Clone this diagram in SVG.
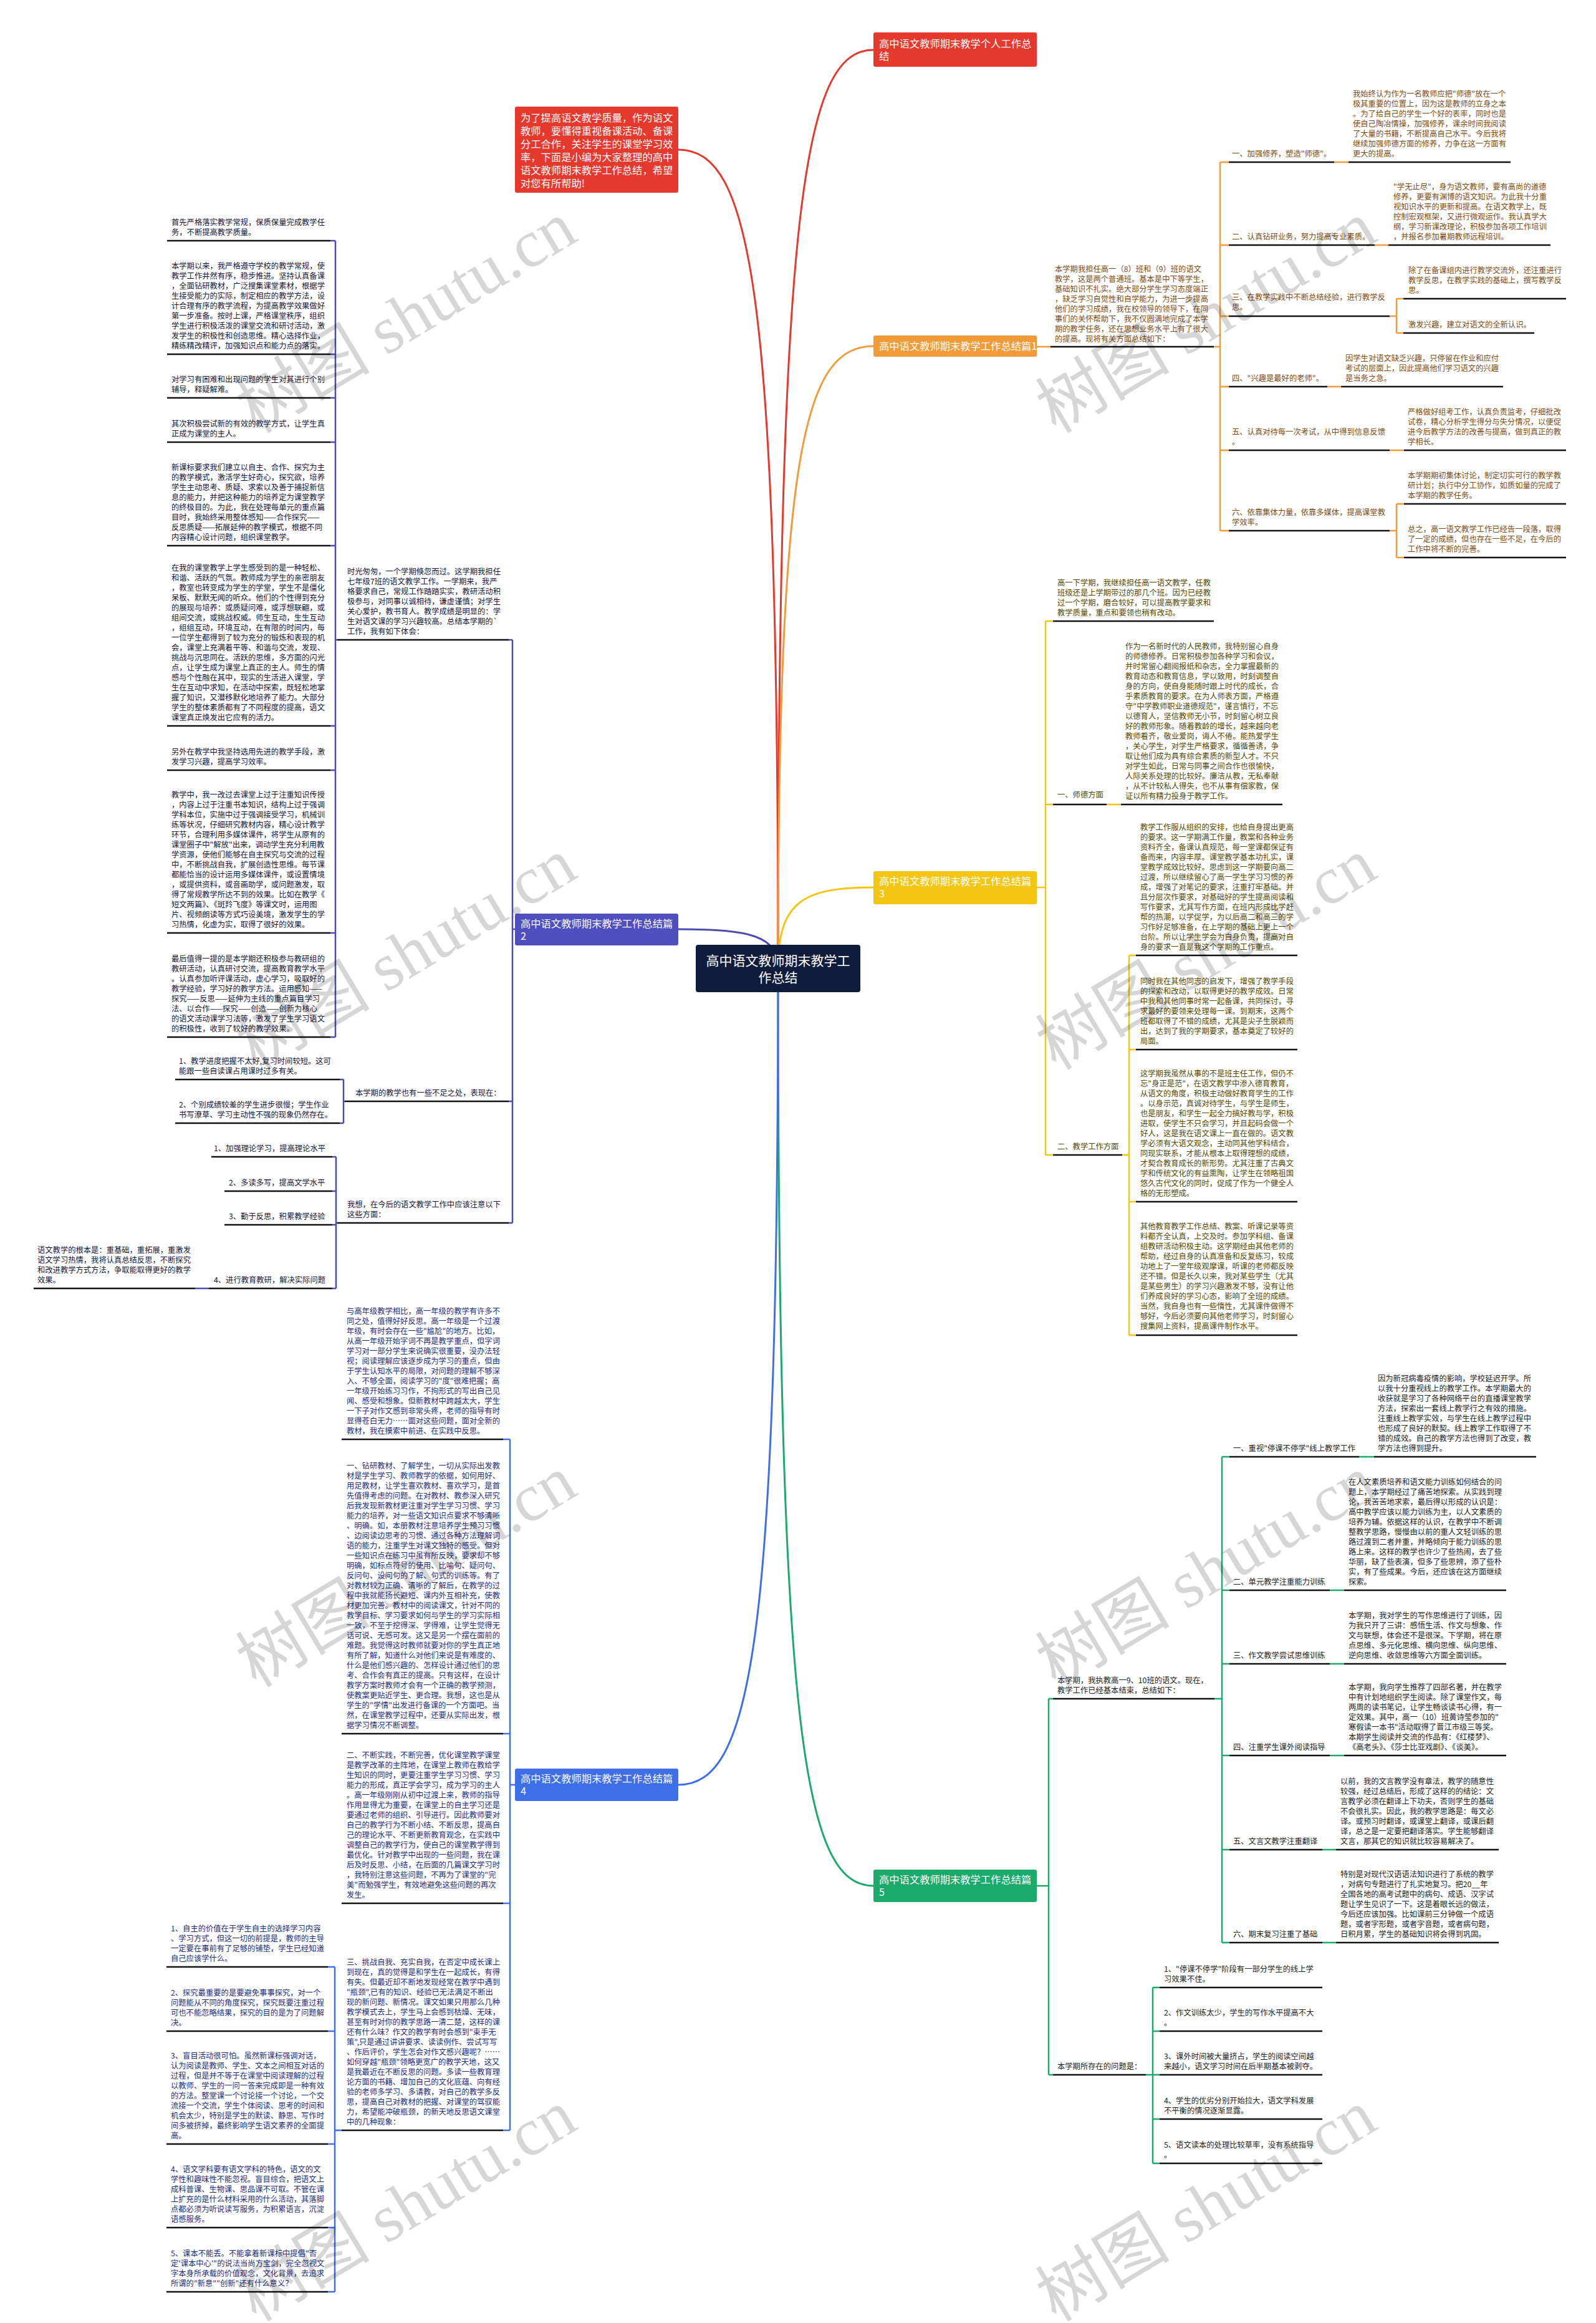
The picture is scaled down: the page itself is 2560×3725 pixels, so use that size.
<svg xmlns="http://www.w3.org/2000/svg" width="2560" height="3725" viewBox="0 0 2560 3725">
<style>
text{font-family:"Noto Sans CJK SC","Noto Sans",sans-serif}
.t{font-size:12.3px}
.nt{font-size:16.3px;fill:#fff}
.c1{fill:#7f4a10}.c3{fill:#544700}.c5{fill:#222}.c2{fill:#14143a}.c4{fill:#1c2c80}
.ul{stroke:#111;stroke-width:2.5;fill:none}
.lr{stroke:#e5392e;stroke-width:3;fill:none}
.lo{stroke:#f29b38;stroke-width:2.5;fill:none}
.ly{stroke:#f3c613;stroke-width:2.5;fill:none}
.lg{stroke:#1aaa6c;stroke-width:2.5;fill:none}
.lp{stroke:#4b4bb0;stroke-width:2.5;fill:none}
.lb{stroke:#3f6fe8;stroke-width:2.5;fill:none}
.wm{font-family:"Liberation Serif","Noto Sans CJK SC",serif;font-size:108px;fill:#000;fill-opacity:0.16}
</style>
<rect width="2560" height="3725" fill="#fff"/>
<g id="connectors">
<path class="lr" d="M1248,1553 C1248,330 1289,80 1401,80"/>
<path class="lr" d="M1248,1553 C1248,463 1205,240 1088,240"/>
<path class="lo" style="stroke-width:3" d="M1248,1553 C1248,725 1289,555 1401,555"/>
<path class="ly" style="stroke-width:3" d="M1248,1553 C1248,1445 1289,1423 1401,1423"/>
<path class="lp" style="stroke-width:3" d="M1248,1553 C1248,1501 1205,1490 1088,1490"/>
<path class="lg" style="stroke-width:3" d="M1248,1553 C1248,2774 1289,3024 1401,3024"/>
<path class="lb" style="stroke-width:3" d="M1248,1553 C1248,2639 1205,2862 1088,2862"/>
<path class="lo" d="M1663,556 H1685 M1947,556 H1957 M1957,260 V851 M1957,260 H1971 M1957,393 H1971 M1957,507 H1971 M1957,620 H1971 M1957,722 H1971 M1957,851 H1971 M2140,260 H2163 M2205,393 H2227 M2229,507 H2240 M2240,479 V534 M2240,479 H2251 M2240,534 H2251 M2129,620 H2151 M2229,722 H2252 M2229,851 H2240 M2240,808 V894 M2240,808 H2252 M2240,894 H2252"/>
<path class="ly" d="M1663,1423 H1677 M1677,996 V1852 M1677,996 H1689 M1677,1290 H1689 M1677,1852 H1689 M1775,1290 H1798 M1800,1852 H1811 M1811,1532 V2141 M1811,1532 H1822 M1811,1683 H1822 M1811,1927 H1822 M1811,2141 H1822"/>
<path class="lg" d="M1663,3024 H1682 M1682,2724 V3327 M1682,2724 H1689 M1682,3327 H1689 M1948,2724 H1960 M1960,2336 V3115 M1960,2336 H1972 M1960,2550 H1972 M1960,2668 H1972 M1960,2815 H1972 M1960,2966 H1972 M1960,3115 H1972 M2180,2336 H2204 M2133,2550 H2156 M2133,2668 H2156 M2133,2815 H2156 M2121,2966 H2143 M2121,3115 H2143 M1838,3327 H1849 M1849,3187 V3469 M1849,3187 H1860 M1849,3257 H1860 M1849,3327 H1860 M1849,3398 H1860 M1849,3469 H1860"/>
<path class="lp" d="M826,1490 H822 M822,1026 V1961 M822,1026 H816 M822,1766 H816 M822,1961 H816 M541,1026 H538 M538,386 V1663 M538,386 H530 M538,568 H530 M538,638 H530 M538,709 H530 M538,875 H530 M538,1164 H530 M538,1235 H530 M538,1496 H530 M538,1663 H530 M553,1766 H551 M551,1731 V1801 M551,1731 H545 M551,1801 H545 M541,1961 H539 M539,1855 V2066 M539,1855 H533 M539,1910 H533 M539,1964 H533 M539,2066 H533 M335,2066 H313"/>
<path class="lb" d="M826,2862 H818 M818,2308 V3416 M818,2308 H807 M818,2780 H807 M818,3052 H807 M818,3416 H807 M548,3416 H537 M537,3154 V3675 M537,3154 H526 M537,3257 H526 M537,3438 H526 M537,3572 H526 M537,3675 H526"/>
</g>

<g id="center">
<rect x="1116" y="1515" width="264" height="76" rx="4" fill="#101c3c"/>
<text x="1248" y="1548" text-anchor="middle" style="font-size:21px;fill:#fff">高中语文教师期末教学工</text>
<text x="1248" y="1575" text-anchor="middle" style="font-size:21px;fill:#fff">作总结</text>
</g>

<g id="intro">
<rect x="826" y="171" width="262" height="138" rx="3" fill="#e5392e"/>
<text class="nt" x="835" y="195"><tspan x="835">为了提高语文教学质量，作为语文</tspan><tspan x="835" dy="21">教师，要懂得重视备课活动、备课</tspan><tspan x="835" dy="21">分工合作，关注学生的课堂学习效</tspan><tspan x="835" dy="21">率，下面是小编为大家整理的高中</tspan><tspan x="835" dy="21">语文教师期末教学工作总结，希望</tspan><tspan x="835" dy="21">对您有所帮助!</tspan></text>
</g>

<g id="personal">
<rect x="1401" y="52" width="262" height="55" rx="3" fill="#e5392e"/>
<text class="nt" x="1410" y="76"><tspan x="1410">高中语文教师期末教学个人工作总</tspan><tspan x="1410" dy="20">结</tspan></text>
</g>

<g id="p1">
<rect x="1401" y="538" width="262" height="34" rx="3" fill="#f29b38"/>
<text class="nt" x="1410" y="561">高中语文教师期末教学工作总结篇1</text>
</g>
<g id="p1-intro">
<text class="t c1" x="1692" y="436"><tspan x="1692">本学期我担任高一（8）班和（9）班的语文</tspan><tspan x="1692" dy="16">教学，这是两个普通班。基本是中下等学生，</tspan><tspan x="1692" dy="16">基础知识不扎实。绝大部分学生学习态度端正</tspan><tspan x="1692" dy="16">，缺乏学习自觉性和自学能力，为进一步提高</tspan><tspan x="1692" dy="16">他们的学习成绩，我在校领导的领导下，在同</tspan><tspan x="1692" dy="16">事们的关怀帮助下，我不仅圆满地完成了本学</tspan><tspan x="1692" dy="16">期的教学任务，还在思想业务水平上有了很大</tspan><tspan x="1692" dy="16">的提高。现将有关方面总结如下：</tspan></text>
<path class="ul" d="M1685,556 H1947"/>
</g>
<g id="p1-1">
<text class="t c1" x="1976" y="251">一、加强修养，塑造"师德"。</text>
<path class="ul" d="M1971,260 H2140"/>
</g>
<g id="p1-1a">
<text class="t c1" x="2170" y="155"><tspan x="2170">我始终认为作为一名教师应把"师德"放在一个</tspan><tspan x="2170" dy="16">极其重要的位置上，因为这是教师的立身之本</tspan><tspan x="2170" dy="16">。为了给自己的学生一个好的表率，同时也是</tspan><tspan x="2170" dy="16">使自己陶冶情操，加强修养，课余时间我阅读</tspan><tspan x="2170" dy="16">了大量的书籍，不断提高自己水平。今后我将</tspan><tspan x="2170" dy="16">继续加强师德方面的修养，力争在这一方面有</tspan><tspan x="2170" dy="16">更大的提高。</tspan></text>
<path class="ul" d="M2163,260 H2423"/>
</g>
<g id="p1-2">
<text class="t c1" x="1976" y="384">二、认真钻研业务，努力提高专业素质。</text>
<path class="ul" d="M1971,393 H2205"/>
</g>
<g id="p1-2a">
<text class="t c1" x="2235" y="304"><tspan x="2235">"学无止尽"，身为语文教师，要有高尚的道德</tspan><tspan x="2235" dy="16">修养，更要有渊博的语文知识。为此我十分重</tspan><tspan x="2235" dy="16">视知识水平的更新和提高。在语文教学上，既</tspan><tspan x="2235" dy="16">控制宏观框架，又进行微观运作。我认真学大</tspan><tspan x="2235" dy="16">纲，学习新课改理论，积极参加各项工作培训</tspan><tspan x="2235" dy="16">，并报名参加暑期教师远程培训。</tspan></text>
<path class="ul" d="M2227,393 H2487"/>
</g>
<g id="p1-3">
<text class="t c1" x="1976" y="481"><tspan x="1976">三、在教学实践中不断总结经验，进行教学反</tspan><tspan x="1976" dy="16">思。</tspan></text>
<path class="ul" d="M1971,507 H2229"/>
</g>
<g id="p1-3a">
<text class="t c1" x="2259" y="438"><tspan x="2259">除了在备课组内进行教学交流外，还注重进行</tspan><tspan x="2259" dy="16">教学反思，在教学实践的基础上，撰写教学反</tspan><tspan x="2259" dy="16">思。</tspan></text>
<path class="ul" d="M2251,479 H2512"/>
</g>
<g id="p1-3b">
<text class="t c1" x="2259" y="525">激发兴趣，建立对语文的全新认识。</text>
<path class="ul" d="M2251,534 H2461"/>
</g>
<g id="p1-4">
<text class="t c1" x="1976" y="611">四、"兴趣是最好的老师"。</text>
<path class="ul" d="M1971,620 H2129"/>
</g>
<g id="p1-4a">
<text class="t c1" x="2158" y="579"><tspan x="2158">因学生对语文缺乏兴趣，只停留在作业和应付</tspan><tspan x="2158" dy="16">考试的层面上，因此提高他们学习语文的兴趣</tspan><tspan x="2158" dy="16">是当务之急。</tspan></text>
<path class="ul" d="M2151,620 H2411"/>
</g>
<g id="p1-5">
<text class="t c1" x="1976" y="697"><tspan x="1976">五、认真对待每一次考试，从中得到信息反馈</tspan><tspan x="1976" dy="16">。</tspan></text>
<path class="ul" d="M1971,722 H2229"/>
</g>
<g id="p1-5a">
<text class="t c1" x="2258" y="665"><tspan x="2258">严格做好组考工作，认真负责监考，仔细批改</tspan><tspan x="2258" dy="16">试卷，精心分析学生得分与失分情况，以便促</tspan><tspan x="2258" dy="16">进今后教学方法的改善与提高，做到真正的教</tspan><tspan x="2258" dy="16">学相长。</tspan></text>
<path class="ul" d="M2252,722 H2512"/>
</g>
<g id="p1-6">
<text class="t c1" x="1976" y="826"><tspan x="1976">六、依靠集体力量，依靠多媒体，提高课堂教</tspan><tspan x="1976" dy="16">学效率。</tspan></text>
<path class="ul" d="M1971,851 H2229"/>
</g>
<g id="p1-6a">
<text class="t c1" x="2258" y="767"><tspan x="2258">本学期期初集体讨论，制定切实可行的教学教</tspan><tspan x="2258" dy="16">研计划；执行中分工协作，如质如量的完成了</tspan><tspan x="2258" dy="16">本学期的教学任务。</tspan></text>
<path class="ul" d="M2252,808 H2512"/>
</g>
<g id="p1-6b">
<text class="t c1" x="2258" y="853"><tspan x="2258">总之，高一语文教学工作已经告一段落，取得</tspan><tspan x="2258" dy="16">了一定的成绩，但也存在一些不足，在今后的</tspan><tspan x="2258" dy="16">工作中将不断的完善。</tspan></text>
<path class="ul" d="M2252,894 H2512"/>
</g>

<g id="p3">
<rect x="1401" y="1397" width="262" height="53" rx="3" fill="#f3c613"/>
<text class="nt" x="1410" y="1419"><tspan x="1410">高中语文教师期末教学工作总结篇</tspan><tspan x="1410" dy="20">3</tspan></text>
</g>
<g id="p3-intro">
<text class="t c3" x="1696" y="939"><tspan x="1696">高一下学期，我继续担任高一语文教学，任教</tspan><tspan x="1696" dy="16">班级还是上学期带过的那几个班。因为已经教</tspan><tspan x="1696" dy="16">过一个学期，磨合较好，可以提高教学要求和</tspan><tspan x="1696" dy="16">教学质量，重点和要领也稍有改动。</tspan></text>
<path class="ul" d="M1689,996 H1947"/>
</g>
<g id="p3-1">
<text class="t c3" x="1696" y="1279">一、师德方面</text>
<path class="ul" d="M1689,1290 H1775"/>
</g>
<g id="p3-1a">
<text class="t c3" x="1805" y="1041"><tspan x="1805">作为一名新时代的人民教师，我特别留心自身</tspan><tspan x="1805" dy="16">的师德修养。日常积极参加各种学习和会议，</tspan><tspan x="1805" dy="16">并时常留心翻阅报纸和杂志，全力掌握最新的</tspan><tspan x="1805" dy="16">教育动态和教育信息，学以致用，时刻调整自</tspan><tspan x="1805" dy="16">身的方向，使自身能随时跟上时代的成长，合</tspan><tspan x="1805" dy="16">乎素质教育的要求。在为人师表方面，严格遵</tspan><tspan x="1805" dy="16">守"中学教师职业道德规范"，谨言慎行，不忘</tspan><tspan x="1805" dy="16">以德育人，坚信教师无小节，时刻留心树立良</tspan><tspan x="1805" dy="16">好的教师形象。随着教龄的增长，越来越向老</tspan><tspan x="1805" dy="16">教师看齐，敬业爱岗，诲人不倦。能热爱学生</tspan><tspan x="1805" dy="16">，关心学生，对学生严格要求，循循善诱，争</tspan><tspan x="1805" dy="16">取让他们成为具有综合素质的新型人才。不只</tspan><tspan x="1805" dy="16">对学生如此，日常与同事之间合作也很愉快，</tspan><tspan x="1805" dy="16">人际关系处理的比较好。廉洁从教，无私奉献</tspan><tspan x="1805" dy="16">，从不计较私人得失，也不从事有偿家教，保</tspan><tspan x="1805" dy="16">证以所有精力投身于教学工作。</tspan></text>
<path class="ul" d="M1798,1290 H2057"/>
</g>
<g id="p3-2">
<text class="t c3" x="1696" y="1843">二、教学工作方面</text>
<path class="ul" d="M1689,1852 H1800"/>
</g>
<g id="p3-2a">
<text class="t c3" x="1829" y="1331"><tspan x="1829">教学工作服从组织的安排，也给自身提出更高</tspan><tspan x="1829" dy="16">的要求。这一学期满工作量，教案和各种业务</tspan><tspan x="1829" dy="16">资料齐全，备课认真规范，每一堂课都保证有</tspan><tspan x="1829" dy="16">备而来，内容丰厚。课堂教学基本功扎实，课</tspan><tspan x="1829" dy="16">堂教学成效比较好。思虑到这一学期要向高二</tspan><tspan x="1829" dy="16">过渡，所以继续留心了高一学生学习习惯的养</tspan><tspan x="1829" dy="16">成，增强了对笔记的要求，注重打牢基础。并</tspan><tspan x="1829" dy="16">且分层次作要求，对基础好的学生提高阅读和</tspan><tspan x="1829" dy="16">写作要求，尤其写作方面，在班内形成比学赶</tspan><tspan x="1829" dy="16">帮的热潮，以学促学，为以后高二和高三的学</tspan><tspan x="1829" dy="16">习作好足够准备，在上学期的基础上更上一个</tspan><tspan x="1829" dy="16">台阶。所以让学生学会为自身负责，提高对自</tspan><tspan x="1829" dy="16">身的要求一直是我这个学期的工作重点。</tspan></text>
<path class="ul" d="M1822,1532 H2081"/>
</g>
<g id="p3-2b">
<text class="t c3" x="1829" y="1578"><tspan x="1829">同时我在其他同志的启发下，增强了教学手段</tspan><tspan x="1829" dy="16">的探索和改动，以取得更好的教学成效。日常</tspan><tspan x="1829" dy="16">中我和其他同事时常一起备课，共同探讨，寻</tspan><tspan x="1829" dy="16">求最好的要领来处理每一课。到期末，这两个</tspan><tspan x="1829" dy="16">班都取得了不错的成绩，尤其是尖子生脱颖而</tspan><tspan x="1829" dy="16">出，达到了我的学期要求，基本奠定了较好的</tspan><tspan x="1829" dy="16">局面。</tspan></text>
<path class="ul" d="M1822,1683 H2081"/>
</g>
<g id="p3-2c">
<text class="t c3" x="1829" y="1726"><tspan x="1829">这学期我虽然从事的不是班主任工作，但仍不</tspan><tspan x="1829" dy="16">忘"身正是范"，在语文教学中渗入德育教育，</tspan><tspan x="1829" dy="16">从语文的角度，积极主动做好教育学生的工作</tspan><tspan x="1829" dy="16">。以身示范，真诚对待学生，与学生是师生，</tspan><tspan x="1829" dy="16">也是朋友，和学生一起全力搞好教与学，积极</tspan><tspan x="1829" dy="16">进取，使学生不只会学习，并且起码会做一个</tspan><tspan x="1829" dy="16">好人，这是我在语文课上一直在做的。语文教</tspan><tspan x="1829" dy="16">学必须有大语文观念，主动同其他学科结合，</tspan><tspan x="1829" dy="16">同现实联系，才能从根本上取得理想的成绩，</tspan><tspan x="1829" dy="16">才契合教育成长的新形势。尤其注重了古典文</tspan><tspan x="1829" dy="16">学和传统文化的有益熏陶，让学生在领略祖国</tspan><tspan x="1829" dy="16">悠久古代文化的同时，促成了作为一个健全人</tspan><tspan x="1829" dy="16">格的无形塑成。</tspan></text>
<path class="ul" d="M1822,1927 H2081"/>
</g>
<g id="p3-2d">
<text class="t c3" x="1829" y="1971"><tspan x="1829">其他教育教学工作总结、教案、听课记录等资</tspan><tspan x="1829" dy="16">料都齐全认真，上交及时。参加学科组、备课</tspan><tspan x="1829" dy="16">组教研活动积极主动。这学期经由其他老师的</tspan><tspan x="1829" dy="16">帮助，经过自身的认真准备和反复练习，较成</tspan><tspan x="1829" dy="16">功地上了一堂年级观摩课，听课的老师都反映</tspan><tspan x="1829" dy="16">还不错。但是长久以来，我对某些学生（尤其</tspan><tspan x="1829" dy="16">是某些男生）的学习兴趣激发不够，没有让他</tspan><tspan x="1829" dy="16">们养成良好的学习心态，影响了全班的成绩。</tspan><tspan x="1829" dy="16">当然，我自身也有一些惰性，尤其课件做得不</tspan><tspan x="1829" dy="16">够好，今后必须要向其他老师学习，时刻留心</tspan><tspan x="1829" dy="16">搜集网上资料，提高课件制作水平。</tspan></text>
<path class="ul" d="M1822,2141 H2081"/>
</g>

<g id="p5">
<rect x="1401" y="2998" width="262" height="52" rx="3" fill="#1aaa6c"/>
<text class="nt" x="1410" y="3020"><tspan x="1410">高中语文教师期末教学工作总结篇</tspan><tspan x="1410" dy="20">5</tspan></text>
</g>
<g id="p5-intro">
<text class="t c5" x="1696" y="2699"><tspan x="1696">本学期，我执教高一9、10班的语文。现在，</tspan><tspan x="1696" dy="16">教学工作已经基本结束，总结如下：</tspan></text>
<path class="ul" d="M1689,2724 H1948"/>
</g>
<g id="p5-1">
<text class="t c5" x="1978" y="2327">一、重视"停课不停学"线上教学工作</text>
<path class="ul" d="M1972,2336 H2180"/>
</g>
<g id="p5-1a">
<text class="t c5" x="2210" y="2215"><tspan x="2210">因为新冠病毒疫情的影响，学校延迟开学。所</tspan><tspan x="2210" dy="16">以我十分重视线上的教学工作。本学期最大的</tspan><tspan x="2210" dy="16">收获就是学习了各种网络平台的直播课堂教学</tspan><tspan x="2210" dy="16">方法，探索出一套线上教学行之有效的措施。</tspan><tspan x="2210" dy="16">注重线上教学实效，与学生在线上教学过程中</tspan><tspan x="2210" dy="16">也形成了良好的默契。线上教学工作取得了不</tspan><tspan x="2210" dy="16">错的成效。自己的教学方法也得到了改变，教</tspan><tspan x="2210" dy="16">学方法也得到提升。</tspan></text>
<path class="ul" d="M2204,2336 H2464"/>
</g>
<g id="p5-2">
<text class="t c5" x="1978" y="2541">二、单元教学注重能力训练</text>
<path class="ul" d="M1972,2550 H2133"/>
</g>
<g id="p5-2a">
<text class="t c5" x="2163" y="2381"><tspan x="2163">在人文素质培养和语文能力训练如何结合的问</tspan><tspan x="2163" dy="16">题上，本学期经过了痛苦地探索。从实践到理</tspan><tspan x="2163" dy="16">论，我苦苦地求索，最后得以形成的认识是：</tspan><tspan x="2163" dy="16">高中教学应该以能力训练为主，以人文素质的</tspan><tspan x="2163" dy="16">培养为辅。依据这样的认识，在教学中不断调</tspan><tspan x="2163" dy="16">整教学思路，慢慢由以前的重人文轻训练的思</tspan><tspan x="2163" dy="16">路过渡到二者并重，并略倾向于能力训练的思</tspan><tspan x="2163" dy="16">路上来。这样的教学也许少了些热闹，去了些</tspan><tspan x="2163" dy="16">华丽，缺了些表演，但多了些思辨，添了些朴</tspan><tspan x="2163" dy="16">实，有了些成果。今后，还应该在这方面继续</tspan><tspan x="2163" dy="16">探索。</tspan></text>
<path class="ul" d="M2156,2550 H2416"/>
</g>
<g id="p5-3">
<text class="t c5" x="1978" y="2659">三、作文教学尝试思维训练</text>
<path class="ul" d="M1972,2668 H2133"/>
</g>
<g id="p5-3a">
<text class="t c5" x="2163" y="2595"><tspan x="2163">本学期，我对学生的写作思维进行了训练，因</tspan><tspan x="2163" dy="16">为我只开了三讲：感悟生活、作文与想象、作</tspan><tspan x="2163" dy="16">文与联想，体会还不是很深。下学期，将在原</tspan><tspan x="2163" dy="16">点思维、多元化思维、横向思维、纵向思维、</tspan><tspan x="2163" dy="16">逆向思维、收敛思维等六方面全面训练。</tspan></text>
<path class="ul" d="M2156,2668 H2416"/>
</g>
<g id="p5-4">
<text class="t c5" x="1978" y="2806">四、注重学生课外阅读指导</text>
<path class="ul" d="M1972,2815 H2133"/>
</g>
<g id="p5-4a">
<text class="t c5" x="2163" y="2710"><tspan x="2163">本学期，我向学生推荐了四部名著，并在教学</tspan><tspan x="2163" dy="16">中有计划地组织学生阅读。除了课堂作文，每</tspan><tspan x="2163" dy="16">两周的读书笔记，让学生畅谈读书心得，有一</tspan><tspan x="2163" dy="16">定效果。其中，高一（10）班黄诗莹参加的"</tspan><tspan x="2163" dy="16">寒假读一本书"活动取得了晋江市级三等奖。</tspan><tspan x="2163" dy="16">本期学生阅读并交流的作品有：《红楼梦》、</tspan><tspan x="2163" dy="16">《高老头》、《莎士比亚戏剧》、《谈美》。</tspan></text>
<path class="ul" d="M2156,2815 H2416"/>
</g>
<g id="p5-5">
<text class="t c5" x="1978" y="2957">五、文言文教学注重翻译</text>
<path class="ul" d="M1972,2966 H2121"/>
</g>
<g id="p5-5a">
<text class="t c5" x="2150" y="2861"><tspan x="2150">以前，我的文言教学没有章法，教学的随意性</tspan><tspan x="2150" dy="16">较强，经过总结后，形成了这样的的结论：文</tspan><tspan x="2150" dy="16">言教学必须在翻译上下功夫，否则学生的基础</tspan><tspan x="2150" dy="16">不会很扎实。因此，我的教学思路是：每文必</tspan><tspan x="2150" dy="16">译。或预习时翻译，或课堂上翻译，或课后翻</tspan><tspan x="2150" dy="16">译，总之是一定要把翻译落实。学生能够翻译</tspan><tspan x="2150" dy="16">文言，那其它的知识就比较容易解决了。</tspan></text>
<path class="ul" d="M2143,2966 H2404"/>
</g>
<g id="p5-6">
<text class="t c5" x="1978" y="3106">六、期末复习注重了基础</text>
<path class="ul" d="M1972,3115 H2121"/>
</g>
<g id="p5-6a">
<text class="t c5" x="2150" y="3010"><tspan x="2150">特别是对现代汉语语法知识进行了系统的教学</tspan><tspan x="2150" dy="16">，对病句专题进行了扎实地复习。把20__年</tspan><tspan x="2150" dy="16">全国各地的高考试题中的病句、成语、汉字试</tspan><tspan x="2150" dy="16">题让学生见识了一下。这是着眼长远的做法，</tspan><tspan x="2150" dy="16">今后还应该加强。比如课前三分钟做一个成语</tspan><tspan x="2150" dy="16">题，或者字形题，或者字音题，或者病句题，</tspan><tspan x="2150" dy="16">日积月累，学生的基础知识将会得到巩固。</tspan></text>
<path class="ul" d="M2143,3115 H2404"/>
</g>
<g id="p5-q">
<text class="t c5" x="1696" y="3318">本学期所存在的问题是：</text>
<path class="ul" d="M1689,3327 H1838"/>
</g>
<g id="p5-q1">
<text class="t c5" x="1867" y="3162"><tspan x="1867">1、"停课不停学"阶段有一部分学生的线上学</tspan><tspan x="1867" dy="16">习效果不佳。</tspan></text>
<path class="ul" d="M1860,3187 H2121"/>
</g>
<g id="p5-q2">
<text class="t c5" x="1867" y="3232"><tspan x="1867">2、作文训练太少，学生的写作水平提高不大</tspan><tspan x="1867" dy="16">。</tspan></text>
<path class="ul" d="M1860,3257 H2121"/>
</g>
<g id="p5-q3">
<text class="t c5" x="1867" y="3302"><tspan x="1867">3、课外时间被大量挤占，学生的阅读空间越</tspan><tspan x="1867" dy="16">来越小，语文学习时间在后半期基本被剥夺。</tspan></text>
<path class="ul" d="M1860,3327 H2121"/>
</g>
<g id="p5-q4">
<text class="t c5" x="1867" y="3373"><tspan x="1867">4、学生的优劣分别开始拉大，语文学科发展</tspan><tspan x="1867" dy="16">不平衡的情况逐渐显露。</tspan></text>
<path class="ul" d="M1860,3398 H2121"/>
</g>
<g id="p5-q5">
<text class="t c5" x="1867" y="3444"><tspan x="1867">5、语文读本的处理比较草率，没有系统指导</tspan><tspan x="1867" dy="16">。</tspan></text>
<path class="ul" d="M1860,3469 H2121"/>
</g>

<g id="p2">
<rect x="826" y="1465" width="262" height="51" rx="3" fill="#4f4fbf"/>
<text class="nt" x="835" y="1487"><tspan x="835">高中语文教师期末教学工作总结篇</tspan><tspan x="835" dy="20">2</tspan></text>
</g>
<g id="p2-a">
<text class="t c2" x="557" y="921"><tspan x="557">时光匆匆，一个学期倏忽而过。这学期我担任</tspan><tspan x="557" dy="16">七年级7班的语文教学工作。一学期来，我严</tspan><tspan x="557" dy="16">格要求自己，常规工作踏踏实实，教研活动积</tspan><tspan x="557" dy="16">极参与，对同事以诚相待，谦虚谨慎；对学生</tspan><tspan x="557" dy="16">关心爱护，教书育人。教学成绩是明显的：学</tspan><tspan x="557" dy="16">生对语文课的学习兴趣较高。总结本学期的`</tspan><tspan x="557" dy="16">工作，我有如下体会：</tspan></text>
<path class="ul" d="M541,1026 H816"/>
</g>
<g id="p2-a1">
<text class="t c2" x="275" y="361"><tspan x="275">首先严格落实教学常规，保质保量完成教学任</tspan><tspan x="275" dy="16">务，不断提高教学质量。</tspan></text>
<path class="ul" d="M268,386 H530"/>
</g>
<g id="p2-a2">
<text class="t c2" x="275" y="431"><tspan x="275">本学期以来，我严格遵守学校的教学常规，使</tspan><tspan x="275" dy="16">教学工作井然有序，稳步推进。坚持认真备课</tspan><tspan x="275" dy="16">，全面钻研教材，广泛搜集课堂素材，根据学</tspan><tspan x="275" dy="16">生接受能力的实际，制定相应的教学方法，设</tspan><tspan x="275" dy="16">计合理有序的教学流程，为提高教学效果做好</tspan><tspan x="275" dy="16">第一步准备。按时上课，严格课堂秩序，组织</tspan><tspan x="275" dy="16">学生进行积极活泼的课堂交流和研讨活动，激</tspan><tspan x="275" dy="16">发学生的积极性和创造思维。精心选择作业，</tspan><tspan x="275" dy="16">精练精改精评，加强知识点和能力点的落实。</tspan></text>
<path class="ul" d="M268,568 H530"/>
</g>
<g id="p2-a3">
<text class="t c2" x="275" y="613"><tspan x="275">对学习有困难和出现问题的学生对其进行个别</tspan><tspan x="275" dy="16">辅导，释疑解难。</tspan></text>
<path class="ul" d="M268,638 H530"/>
</g>
<g id="p2-a4">
<text class="t c2" x="275" y="684"><tspan x="275">其次积极尝试新的有效的教学方式，让学生真</tspan><tspan x="275" dy="16">正成为课堂的主人。</tspan></text>
<path class="ul" d="M268,709 H530"/>
</g>
<g id="p2-a5">
<text class="t c2" x="275" y="754"><tspan x="275">新课标要求我们建立以自主、合作、探究为主</tspan><tspan x="275" dy="16">的教学模式，激活学生好奇心，探究欲，培养</tspan><tspan x="275" dy="16">学生主动思考、质疑、求索以及善于捕捉新信</tspan><tspan x="275" dy="16">息的能力，并把这种能力的培养定为课堂教学</tspan><tspan x="275" dy="16">的终极目的。为此，我在处理每单元的重点篇</tspan><tspan x="275" dy="16">目时，我始终采用整体感知——合作探究——</tspan><tspan x="275" dy="16">反思质疑——拓展延伸的教学模式，根据不同</tspan><tspan x="275" dy="16">内容精心设计问题，组织课堂教学。</tspan></text>
<path class="ul" d="M268,875 H530"/>
</g>
<g id="p2-a6">
<text class="t c2" x="275" y="915"><tspan x="275">在我的课堂教学上学生感受到的是一种轻松、</tspan><tspan x="275" dy="16">和谐、活跃的气氛。教师成为学生的亲密朋友</tspan><tspan x="275" dy="16">，教室也转变成为学生的学堂，学生不是僵化</tspan><tspan x="275" dy="16">呆板、默默无闻的听众。他们的个性得到充分</tspan><tspan x="275" dy="16">的展现与培养：或质疑问难，或浮想联翩，或</tspan><tspan x="275" dy="16">组间交流，或挑战权威。师生互动，生生互动</tspan><tspan x="275" dy="16">，组组互动，环境互动，在有限的时间内，每</tspan><tspan x="275" dy="16">一位学生都得到了较为充分的锻炼和表现的机</tspan><tspan x="275" dy="16">会，课堂上充满着平等、和谐与交流，发现、</tspan><tspan x="275" dy="16">挑战与沉思同在。活跃的思维，多方面的闪光</tspan><tspan x="275" dy="16">点，让学生成为课堂上真正的主人。师生的情</tspan><tspan x="275" dy="16">感与个性融在其中，现实的生活进入课堂，学</tspan><tspan x="275" dy="16">生在互动中求知，在活动中探索，既轻松地掌</tspan><tspan x="275" dy="16">握了知识，又潜移默化地培养了能力。大部分</tspan><tspan x="275" dy="16">学生的整体素质都有了不同程度的提高，语文</tspan><tspan x="275" dy="16">课堂真正焕发出它应有的活力。</tspan></text>
<path class="ul" d="M268,1164 H530"/>
</g>
<g id="p2-a7">
<text class="t c2" x="275" y="1210"><tspan x="275">另外在教学中我坚持选用先进的教学手段，激</tspan><tspan x="275" dy="16">发学习兴趣，提高学习效率。</tspan></text>
<path class="ul" d="M268,1235 H530"/>
</g>
<g id="p2-a8">
<text class="t c2" x="275" y="1279"><tspan x="275">教学中，我一改过去课堂上过于注重知识传授</tspan><tspan x="275" dy="16">，内容上过于注重书本知识，结构上过于强调</tspan><tspan x="275" dy="16">学科本位，实施中过于强调接受学习，机械训</tspan><tspan x="275" dy="16">练等状况，仔细研究教材内容，精心设计教学</tspan><tspan x="275" dy="16">环节，合理利用多媒体课件，将学生从原有的</tspan><tspan x="275" dy="16">课堂圈子中"解放"出来，调动学生充分利用教</tspan><tspan x="275" dy="16">学资源，使他们能够在自主探究与交流的过程</tspan><tspan x="275" dy="16">中，不断挑战自我，扩展创造性思维。每节课</tspan><tspan x="275" dy="16">都能恰当的设计运用多媒体课件，或设置情境</tspan><tspan x="275" dy="16">，或提供资料，或音画助学，或问题激发，取</tspan><tspan x="275" dy="16">得了常规教学所达不到的效果。比如在教学《</tspan><tspan x="275" dy="16">短文两篇》、《斑羚飞度》等课文时，运用图</tspan><tspan x="275" dy="16">片、视频朗读等方式巧设美境，激发学生的学</tspan><tspan x="275" dy="16">习热情，化虚为实，取得了很好的效果。</tspan></text>
<path class="ul" d="M268,1496 H530"/>
</g>
<g id="p2-a9">
<text class="t c2" x="275" y="1542"><tspan x="275">最后值得一提的是本学期还积极参与教研组的</tspan><tspan x="275" dy="16">教研活动，认真研讨交流，提高教育教学水平</tspan><tspan x="275" dy="16">。认真参加听评课活动，虚心学习，吸取好的</tspan><tspan x="275" dy="16">教学经验，学习好的教学方法。运用感知——</tspan><tspan x="275" dy="16">探究——反思——延伸为主线的重点篇目学习</tspan><tspan x="275" dy="16">法、以合作——探究——创造——创新为核心</tspan><tspan x="275" dy="16">的语文活动课学习法等，激发了学生学习语文</tspan><tspan x="275" dy="16">的积极性，收到了较好的教学效果。</tspan></text>
<path class="ul" d="M268,1663 H530"/>
</g>
<g id="p2-b">
<text class="t c2" x="570" y="1757">本学期的教学也有一些不足之处，表现在：</text>
<path class="ul" d="M553,1766 H816"/>
</g>
<g id="p2-b1">
<text class="t c2" x="287" y="1706"><tspan x="287">1、教学进度把握不太好,复习时间较短。这可</tspan><tspan x="287" dy="16">能跟一些自读课占用课时过多有关。</tspan></text>
<path class="ul" d="M281,1731 H545"/>
</g>
<g id="p2-b2">
<text class="t c2" x="287" y="1776"><tspan x="287">2、个别成绩较差的学生进步很慢；学生作业</tspan><tspan x="287" dy="16">书写潦草、学习主动性不强的现象仍然存在。</tspan></text>
<path class="ul" d="M281,1801 H545"/>
</g>
<g id="p2-c">
<text class="t c2" x="557" y="1936"><tspan x="557">我想，在今后的语文教学工作中应该注意以下</tspan><tspan x="557" dy="16">这些方面：</tspan></text>
<path class="ul" d="M541,1961 H816"/>
</g>
<g id="p2-c1">
<text class="t c2" x="343" y="1846">1、加强理论学习，提高理论水平</text>
<path class="ul" d="M339,1855 H533"/>
</g>
<g id="p2-c2">
<text class="t c2" x="367" y="1901">2、多读多写，提高文学水平</text>
<path class="ul" d="M360,1910 H533"/>
</g>
<g id="p2-c3">
<text class="t c2" x="367" y="1955">3、勤于反思，积累教学经验</text>
<path class="ul" d="M360,1964 H533"/>
</g>
<g id="p2-c4">
<text class="t c2" x="343" y="2057">4、进行教育教研，解决实际问题</text>
<path class="ul" d="M335,2066 H533"/>
</g>
<g id="p2-c4a">
<text class="t c2" x="60" y="2009"><tspan x="60">语文教学的根本是：重基础，重拓展，重激发</tspan><tspan x="60" dy="16">语文学习热情，我将认真总结反思，不断探究</tspan><tspan x="60" dy="16">和改进教学方式方法，争取能取得更好的教学</tspan><tspan x="60" dy="16">效果。</tspan></text>
<path class="ul" d="M54,2066 H313"/>
</g>

<g id="p4">
<rect x="826" y="2836" width="262" height="52" rx="3" fill="#3f6fe8"/>
<text class="nt" x="835" y="2858"><tspan x="835">高中语文教师期末教学工作总结篇</tspan><tspan x="835" dy="20">4</tspan></text>
</g>
<g id="p4-a">
<text class="t c4" x="556" y="2107"><tspan x="556">与高年级教学相比，高一年级的教学有许多不</tspan><tspan x="556" dy="16">同之处，值得好好反思。高一年级是一个过渡</tspan><tspan x="556" dy="16">年级，有时会存在一些"尴尬"的地方。比如，</tspan><tspan x="556" dy="16">从高一年级开始字词不再是教学重点，但字词</tspan><tspan x="556" dy="16">学习对一部分学生来说确实很重要，没办法轻</tspan><tspan x="556" dy="16">视；阅读理解应该逐步成为学习的重点，但由</tspan><tspan x="556" dy="16">于学生认知水平的局限，对问题的理解不够深</tspan><tspan x="556" dy="16">入、不够全面，阅读学习的"度"很难把握；高</tspan><tspan x="556" dy="16">一年级开始练习习作，不拘形式的写出自己见</tspan><tspan x="556" dy="16">闻、感受和想象。但新教材中跨越太大，学生</tspan><tspan x="556" dy="16">一下子对作文感到非常头疼，老师的指导有时</tspan><tspan x="556" dy="16">显得苍白无力……面对这些问题，面对全新的</tspan><tspan x="556" dy="16">教材，我在摸索中前进、在实践中反思。</tspan></text>
<path class="ul" d="M548,2308 H807"/>
</g>
<g id="p4-b">
<text class="t c4" x="556" y="2355"><tspan x="556">一、钻研教材、了解学生，一切从实际出发教</tspan><tspan x="556" dy="16">材是学生学习、教师教学的依据，如何用好、</tspan><tspan x="556" dy="16">用足教材，让学生喜欢教材、喜欢学习，是首</tspan><tspan x="556" dy="16">先值得考虑的问题。在对教材、教参深入研究</tspan><tspan x="556" dy="16">后我发现新教材更注重对学生学习习惯、学习</tspan><tspan x="556" dy="16">能力的培养，对一些语文知识点要求不够清晰</tspan><tspan x="556" dy="16">、明确。如，本册教材注意培养学生预习习惯</tspan><tspan x="556" dy="16">、边阅读边思考的习惯、通过各种方法理解词</tspan><tspan x="556" dy="16">语的能力，注重学生对课文独特的感受。但对</tspan><tspan x="556" dy="16">一些知识点在练习中虽有所反映，要求却不够</tspan><tspan x="556" dy="16">明确，如标点符号的使用、比喻句、疑问句、</tspan><tspan x="556" dy="16">反问句、设问句的了解、句式的训练等。有了</tspan><tspan x="556" dy="16">对教材较为正确、清晰的了解后，在教学的过</tspan><tspan x="556" dy="16">程中我就能扬长避短、课内外互相补充，使教</tspan><tspan x="556" dy="16">材更加完善。教材中的阅读课文，针对不同的</tspan><tspan x="556" dy="16">教学目标、学习要求如何与学生的学习实际相</tspan><tspan x="556" dy="16">一致，不至于挖得深、学得难，让学生觉得无</tspan><tspan x="556" dy="16">话可说、无感可发。这又是另一个摆在面前的</tspan><tspan x="556" dy="16">难题。我觉得这时教师就要对你的学生真正地</tspan><tspan x="556" dy="16">有所了解，知道什么对他们来说是有难度的、</tspan><tspan x="556" dy="16">什么是他们感兴趣的、怎样设计通过他们的思</tspan><tspan x="556" dy="16">考、合作会有真正的提高。只有这样，在设计</tspan><tspan x="556" dy="16">教学方案时教师才会有一个正确的教学预测，</tspan><tspan x="556" dy="16">使教案更贴近学生、更合理。我想，这也是从</tspan><tspan x="556" dy="16">学生的"学情"出发进行备课的一个方面吧。当</tspan><tspan x="556" dy="16">然，在课堂教学过程中，还要从实际出发，根</tspan><tspan x="556" dy="16">据学习情况不断调整。</tspan></text>
<path class="ul" d="M548,2780 H807"/>
</g>
<g id="p4-c">
<text class="t c4" x="556" y="2819"><tspan x="556">二、不断实践，不断完善，优化课堂教学课堂</tspan><tspan x="556" dy="16">是教学改革的主阵地，在课堂上教师在教给学</tspan><tspan x="556" dy="16">生知识的同时，更要注重学生学习习惯、学习</tspan><tspan x="556" dy="16">能力的形成，真正学会学习，成为学习的主人</tspan><tspan x="556" dy="16">。高一年级刚刚从初中过渡上来，教师的指导</tspan><tspan x="556" dy="16">作用显得尤为重要，在课堂上的自主学习还是</tspan><tspan x="556" dy="16">要通过老师的组织、引导进行。因此教师要对</tspan><tspan x="556" dy="16">自己的教学行为不断小结、不断反思，提高自</tspan><tspan x="556" dy="16">己的理论水平、不断更新教育观念，在实践中</tspan><tspan x="556" dy="16">调整自己的教学行为，使自己的课堂教学得到</tspan><tspan x="556" dy="16">最优化。针对教学中出现的一些问题，我在课</tspan><tspan x="556" dy="16">后及时反思、小结，在后面的几篇课文学习时</tspan><tspan x="556" dy="16">，我特别注意这些问题，不再为了课堂的"完</tspan><tspan x="556" dy="16">美"而勉强学生，有效地避免这些问题的再次</tspan><tspan x="556" dy="16">发生。</tspan></text>
<path class="ul" d="M548,3052 H807"/>
</g>
<g id="p4-d">
<text class="t c4" x="556" y="3151"><tspan x="556">三、挑战自我、充实自我，在否定中成长课上</tspan><tspan x="556" dy="16">到现在，真的觉得是和学生在一起成长，有得</tspan><tspan x="556" dy="16">有失。但最近却不断地发现经常在教学中遇到</tspan><tspan x="556" dy="16">"瓶颈",已有的知识、经验已无法满足不断出</tspan><tspan x="556" dy="16">现的新问题、新情况。课文如果只用那么几种</tspan><tspan x="556" dy="16">教学模式去上，学生马上会感到枯燥、无味，</tspan><tspan x="556" dy="16">甚至有时对你的教学思路一清二楚，这样的课</tspan><tspan x="556" dy="16">还有什么味？作文的教学有时会感到"束手无</tspan><tspan x="556" dy="16">策",只是通过讲讲要求、读读例作、尝试写写</tspan><tspan x="556" dy="16">、作后评价，学生怎会对作文感兴趣呢？……</tspan><tspan x="556" dy="16">如何穿越"瓶颈"领略更宽广的教学天地，这又</tspan><tspan x="556" dy="16">是我最近在不断反思的问题。多读一些教育理</tspan><tspan x="556" dy="16">论方面的书籍、增加自己的文化底蕴、向有经</tspan><tspan x="556" dy="16">验的老师多学习、多请教，对自己的教学多反</tspan><tspan x="556" dy="16">思，提高自己对教材的把握、对课堂的驾驭能</tspan><tspan x="556" dy="16">力，希望能冲破瓶颈，的新天地反思语文课堂</tspan><tspan x="556" dy="16">中的几种现象：</tspan></text>
<path class="ul" d="M548,3416 H807"/>
</g>
<g id="p4-d1">
<text class="t c4" x="274" y="3097"><tspan x="274">1、自主的价值在于学生自主的选择学习内容</tspan><tspan x="274" dy="16">、学习方式，但这一切的前提是，教师的主导</tspan><tspan x="274" dy="16">一定要在事前有了足够的铺垫，学生已经知道</tspan><tspan x="274" dy="16">自己应该学什么。</tspan></text>
<path class="ul" d="M267,3154 H526"/>
</g>
<g id="p4-d2">
<text class="t c4" x="274" y="3200"><tspan x="274">2、探究最重要的是要避免事事探究，对一个</tspan><tspan x="274" dy="16">问题能从不同的角度探究，探究既要注重过程</tspan><tspan x="274" dy="16">可也不能忽略结果，探究的目的是为了问题解</tspan><tspan x="274" dy="16">决。</tspan></text>
<path class="ul" d="M267,3257 H526"/>
</g>
<g id="p4-d3">
<text class="t c4" x="274" y="3301"><tspan x="274">3、盲目活动很可怕。虽然新课标强调对话，</tspan><tspan x="274" dy="16">认为阅读是教师、学生、文本之间相互对话的</tspan><tspan x="274" dy="16">过程，但是并不等于在课堂中阅读理解的过程</tspan><tspan x="274" dy="16">以教师、学生的一问一答来完成即是一种有效</tspan><tspan x="274" dy="16">的方法。整堂课一个讨论接一个讨论，一个交</tspan><tspan x="274" dy="16">流接一个交流，学生个体阅读、思考的时间和</tspan><tspan x="274" dy="16">机会太少，特别是学生的默读、静思、写作时</tspan><tspan x="274" dy="16">间多被挤掉，最终影响学生语文素养的全面提</tspan><tspan x="274" dy="16">高。</tspan></text>
<path class="ul" d="M267,3438 H526"/>
</g>
<g id="p4-d4">
<text class="t c4" x="274" y="3483"><tspan x="274">4、语文学科要有语文学科的特色，语文的文</tspan><tspan x="274" dy="16">学性和趣味性不能忽视。盲目综合，把语文上</tspan><tspan x="274" dy="16">成科普课、生物课、思品课不可取。不管在课</tspan><tspan x="274" dy="16">上扩充的是什么材料采用的什么活动，其落脚</tspan><tspan x="274" dy="16">点都必须为听说读写服务，为积累语言，沉淀</tspan><tspan x="274" dy="16">语感服务。</tspan></text>
<path class="ul" d="M267,3572 H526"/>
</g>
<g id="p4-d5">
<text class="t c4" x="274" y="3618"><tspan x="274">5、课本不能丢。不能拿着新课标中提倡"否</tspan><tspan x="274" dy="16">定'课本中心'"的说法当尚方宝剑，完全忽视文</tspan><tspan x="274" dy="16">字本身所承载的价值观念，文化背景，去追求</tspan><tspan x="274" dy="16">所谓的"新意""创新"还有什么意义？</tspan></text>
<path class="ul" d="M267,3675 H526"/>
</g>

<g id="watermarks">
<text class="wm" x="653" y="545" text-anchor="middle" transform="rotate(-31 653 511)">树图 shutu.cn</text>
<text class="wm" x="1936" y="545" text-anchor="middle" transform="rotate(-31 1936 511)">树图 shutu.cn</text>
<text class="wm" x="653" y="1566" text-anchor="middle" transform="rotate(-31 653 1532)">树图 shutu.cn</text>
<text class="wm" x="1936" y="1566" text-anchor="middle" transform="rotate(-31 1936 1532)">树图 shutu.cn</text>
<text class="wm" x="653" y="2556" text-anchor="middle" transform="rotate(-31 653 2522)">树图 shutu.cn</text>
<text class="wm" x="1936" y="2556" text-anchor="middle" transform="rotate(-31 1936 2522)">树图 shutu.cn</text>
<text class="wm" x="653" y="3573" text-anchor="middle" transform="rotate(-31 653 3539)">树图 shutu.cn</text>
<text class="wm" x="1936" y="3573" text-anchor="middle" transform="rotate(-31 1936 3539)">树图 shutu.cn</text>
</g>
</svg>
